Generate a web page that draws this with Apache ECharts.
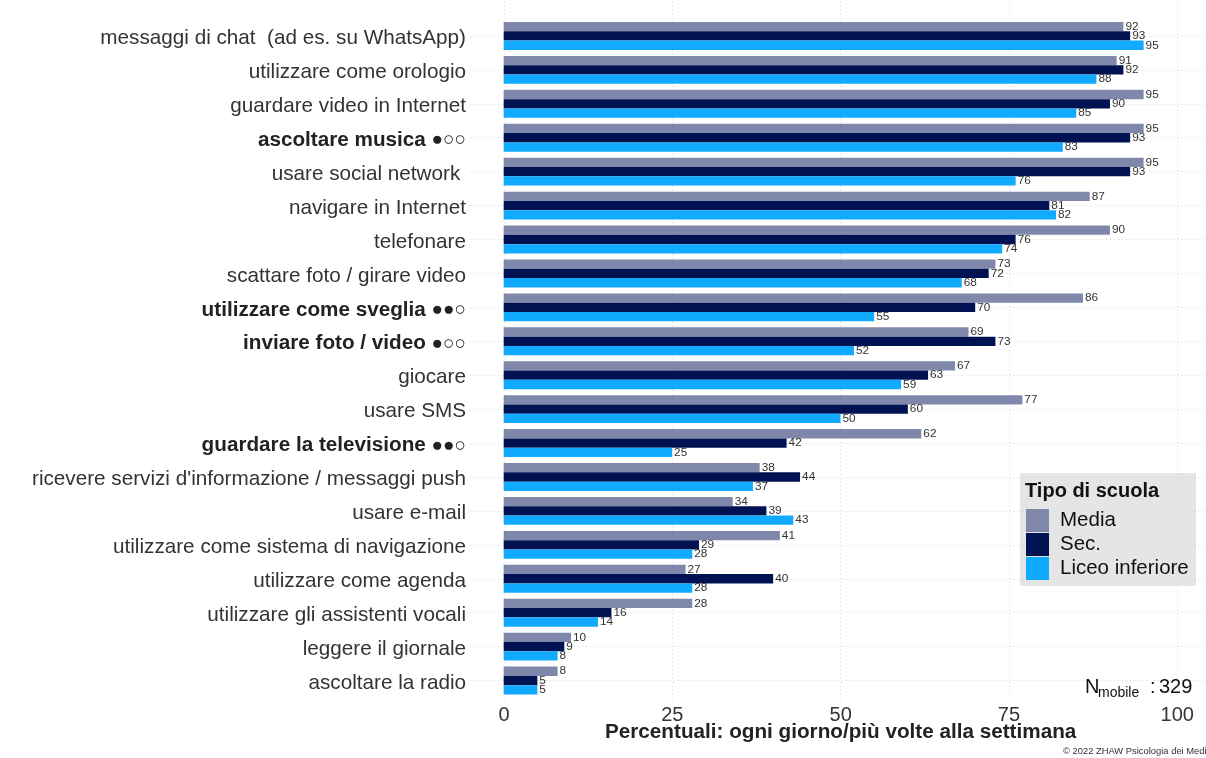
<!DOCTYPE html>
<html>
<head>
<meta charset="utf-8">
<script src="https://cdn.jsdelivr.net/npm/echarts@6/dist/echarts.min.js"></script>
<style>
html,body{margin:0;padding:0;background:#fff;}
#chart{width:1206px;height:758px;}
</style>
</head>
<body>
<div id="chart"></div>
<script>
const categories = [
  "messaggi di chat  (ad es. su WhatsApp)",
  "utilizzare come orologio",
  "guardare video in Internet",
  "ascoltare musica ●○○",
  "usare social network ",
  "navigare in Internet",
  "telefonare",
  "scattare foto / girare video",
  "utilizzare come sveglia ●●○",
  "inviare foto / video ●○○",
  "giocare",
  "usare SMS",
  "guardare la televisione ●●○",
  "ricevere servizi d'informazione / messaggi push",
  "usare e-mail",
  "utilizzare come sistema di navigazione",
  "utilizzare come agenda",
  "utilizzare gli assistenti vocali",
  "leggere il giornale",
  "ascoltare la radio"
];
const media = [92, 91, 95, 95, 95, 87, 90, 73, 86, 69, 67, 77, 62, 38, 34, 41, 27, 28, 10, 8];
const sec   = [93, 92, 90, 93, 93, 81, 76, 72, 70, 73, 63, 60, 42, 44, 39, 29, 40, 16, 9, 5];
const liceo = [95, 88, 85, 83, 76, 82, 74, 68, 55, 52, 59, 50, 25, 37, 43, 28, 28, 14, 8, 5];
const seriesNames = ["Media", "Sec.", "Liceo inferiore"];
const xTicks = [0, 25, 50, 75, 100];

const FONT = "'Liberation Sans', Arial, Helvetica, sans-serif";
const colors = ["#7F88AB", "#001252", "#12AAFF"];

const chart = echarts.init(document.getElementById('chart'), null, {renderer: 'canvas'});

function labelFormatter(v) {
  const i = v.search(/[●○]/);
  if (i >= 0) {
    return '{b|' + v.slice(0, i) + '}{c|' + v.slice(i) + '}';
  }
  return '{n|' + v + '}';
}

function barSeries(name, data, color) {
  return {
    name: name,
    type: 'bar',
    xAxisIndex: 0,
    yAxisIndex: 0,
    data: data,
    barWidth: 9.3,
    barGap: '0%',
    itemStyle: {color: color, borderWidth: 0},
    z: 3,
    label: {
      show: true,
      position: 'right',
      distance: 2,
      fontSize: 11.8,
      fontFamily: FONT,
      color: '#333'
    }
  };
}

const option = {
  animation: false,
  backgroundColor: '#ffffff',
  textStyle: {fontFamily: FONT},
  grid: [
    {left: 470, right: 0, top: 19, bottom: 60.5},
    {left: 504, right: 28.7, top: 2, bottom: 56}
  ],
  xAxis: [
    {gridIndex: 0, type: 'value', min: -5, max: 104.26, show: false, splitLine: {show: false}},
    {
      gridIndex: 1, type: 'value', min: xTicks[0], max: xTicks[xTicks.length - 1], interval: 25,
      axisLine: {show: false}, axisTick: {show: false},
      splitLine: {show: true, lineStyle: {color: '#d4d4d4', width: 1, type: [1, 3]}},
      axisLabel: {fontSize: 20, color: '#333', margin: 3, fontFamily: FONT},
      name: 'Percentuali: ogni giorno/più volte alla settimana',
      nameLocation: 'middle',
      nameGap: 20,
      nameMoveOverlap: false,
      nameTextStyle: {fontWeight: 'bold', fontSize: 20.7, color: '#222', fontFamily: FONT}
    }
  ],
  yAxis: [
    {
      gridIndex: 0, type: 'category', data: categories, inverse: true,
      axisLine: {show: false}, axisTick: {show: false}, splitLine: {show: false},
      axisLabel: {
        margin: 4,
        formatter: labelFormatter,
        rich: {
          n: {fontSize: 20.7, color: '#333', fontFamily: FONT, padding: [5, 0, 0, 0]},
          b: {fontSize: 20.7, color: '#222', fontWeight: 'bold', fontFamily: FONT, padding: [5, 0, 0, 0]},
          c: {fontSize: 19, color: '#222', fontFamily: FONT, padding: [5, 0, 0, 0]}
        }
      }
    },
    {gridIndex: 1, type: 'value', min: 0, max: 1, show: false, splitLine: {show: false}}
  ],
  legend: {
    data: seriesNames,
    orient: 'vertical',
    left: 1026,
    top: 509,
    padding: 0,
    icon: 'rect',
    itemWidth: 23,
    itemHeight: 23,
    itemGap: 1,
    itemStyle: {borderWidth: 0, decal: 'none'},
    textStyle: {fontSize: 20.5, color: '#111', fontFamily: FONT, padding: [0, 0, 0, 6]}
  },
  graphic: {
    elements: [
      {type: 'rect', z: -10, shape: {x: 1020, y: 473, width: 176, height: 113}, style: {fill: '#E5E5E5'}},
      {type: 'text', z: 10, style: {x: 1025, y: 491, text: 'Tipo di scuola', font: 'bold 20px ' + FONT, fill: '#111', verticalAlign: 'middle'}},
      {type: 'text', z: 10, style: {x: 1085, y: 687, text: 'N', font: '20px ' + FONT, fill: '#111', verticalAlign: 'middle'}},
      {type: 'text', z: 10, style: {x: 1098, y: 693, text: 'mobile', font: '14px ' + FONT, fill: '#111', verticalAlign: 'middle'}},
      {type: 'text', z: 10, style: {x: 1150, y: 687, text: ':', font: '20px ' + FONT, fill: '#111', verticalAlign: 'middle'}},
      {type: 'text', z: 10, style: {x: 1159, y: 687, text: '329', font: '20px ' + FONT, fill: '#111', verticalAlign: 'middle'}},
      {type: 'text', z: 10, style: {x: 1063, y: 751, text: '© 2022 ZHAW Psicologia dei Media', font: '9.4px ' + FONT, fill: '#333', verticalAlign: 'middle'}}
    ]
  },
  series: [
    {
      name: 'grid-rows',
      type: 'line',
      xAxisIndex: 0,
      yAxisIndex: 0,
      data: [],
      z: 1,
      silent: true,
      markLine: {
        silent: true,
        z: 1,
        symbol: ['none', 'none'],
        label: {show: false},
        lineStyle: {color: '#d4d4d4', width: 1, type: [1, 3]},
        data: categories.map(c => ({yAxis: c}))
      }
    },
    barSeries(seriesNames[0], media, colors[0]),
    barSeries(seriesNames[1], sec, colors[1]),
    barSeries(seriesNames[2], liceo, colors[2])
  ]
};
chart.setOption(option);
</script>
</body>
</html>
